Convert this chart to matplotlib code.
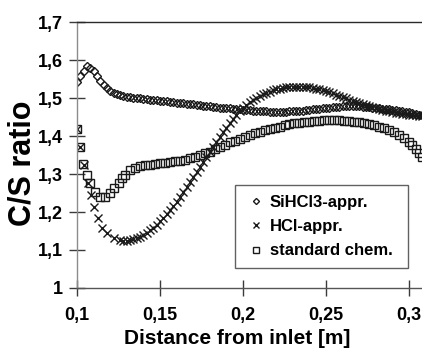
import matplotlib
matplotlib.use("Agg")
import matplotlib.pyplot as plt

plt.rcParams['font.family'] = ['Liberation Sans', 'DejaVu Sans']
plt.rcParams['font.weight'] = 'bold'

# SiHCl3 approximation
x_sihcl3 = [0.100, 0.102, 0.104, 0.106, 0.108, 0.110, 0.112, 0.114, 0.116, 0.118,
            0.120, 0.122, 0.124, 0.126, 0.128, 0.130, 0.132, 0.134, 0.136, 0.138,
            0.140, 0.142, 0.144, 0.146, 0.148, 0.150, 0.152, 0.154, 0.156, 0.158,
            0.160, 0.162, 0.164, 0.166, 0.168, 0.170, 0.172, 0.174, 0.176, 0.178,
            0.180, 0.182, 0.184, 0.186, 0.188, 0.190, 0.192, 0.194, 0.196, 0.198,
            0.200, 0.202, 0.204, 0.206, 0.208, 0.210, 0.212, 0.214, 0.216, 0.218,
            0.220, 0.222, 0.224, 0.226, 0.228, 0.230, 0.232, 0.234, 0.236, 0.238,
            0.240, 0.242, 0.244, 0.246, 0.248, 0.250, 0.252, 0.254, 0.256, 0.258,
            0.260, 0.262, 0.264, 0.266, 0.268, 0.270, 0.272, 0.274, 0.276, 0.278,
            0.280, 0.282, 0.284, 0.286, 0.288, 0.290, 0.292, 0.294, 0.296, 0.298,
            0.300, 0.302, 0.304, 0.306, 0.308]
y_sihcl3 = [1.542, 1.557, 1.572, 1.584, 1.580, 1.570, 1.558, 1.546, 1.535, 1.526,
            1.519, 1.514, 1.510, 1.507, 1.505, 1.503, 1.502, 1.501, 1.500, 1.499,
            1.498, 1.497, 1.496, 1.495, 1.494, 1.493, 1.492, 1.491, 1.490, 1.489,
            1.488, 1.487, 1.486, 1.485, 1.484, 1.483, 1.482, 1.481, 1.480, 1.479,
            1.478, 1.477, 1.476, 1.475, 1.475, 1.474, 1.473, 1.472, 1.471, 1.470,
            1.469, 1.468, 1.468, 1.467, 1.466, 1.466, 1.465, 1.465, 1.464, 1.464,
            1.464, 1.464, 1.464, 1.464, 1.465, 1.465, 1.466, 1.466, 1.467, 1.468,
            1.469, 1.470, 1.471, 1.472, 1.473, 1.474, 1.475, 1.476, 1.477, 1.477,
            1.478, 1.478, 1.478, 1.478, 1.478, 1.478, 1.477, 1.477, 1.476, 1.475,
            1.474, 1.473, 1.472, 1.471, 1.470, 1.469, 1.468, 1.467, 1.465, 1.464,
            1.462, 1.460, 1.458, 1.456, 1.454]

# HCl approximation
x_hcl = [0.100, 0.102, 0.104, 0.1065, 0.1085, 0.110, 0.1125, 0.115, 0.118, 0.122,
         0.126, 0.128, 0.130, 0.132, 0.134, 0.136, 0.138, 0.140, 0.142, 0.144,
         0.146, 0.148, 0.150, 0.152, 0.154, 0.156, 0.158, 0.160, 0.162, 0.164,
         0.166, 0.168, 0.170, 0.172, 0.174, 0.176, 0.178, 0.180, 0.182, 0.184,
         0.186, 0.188, 0.190, 0.192, 0.194, 0.196, 0.198, 0.200, 0.202, 0.204,
         0.206, 0.208, 0.210, 0.212, 0.214, 0.216, 0.218, 0.220, 0.222, 0.224,
         0.226, 0.228, 0.230, 0.232, 0.234, 0.236, 0.238, 0.240, 0.242, 0.244,
         0.246, 0.248, 0.250, 0.252, 0.254, 0.256, 0.258, 0.260, 0.262, 0.264,
         0.266, 0.268, 0.270, 0.272, 0.274, 0.276, 0.278, 0.280, 0.282, 0.284,
         0.286, 0.288, 0.290, 0.292, 0.294, 0.296, 0.298, 0.300, 0.302, 0.304,
         0.306, 0.308]
y_hcl = [1.419, 1.372, 1.324, 1.276, 1.245, 1.214, 1.183, 1.157, 1.144, 1.131,
         1.126, 1.125, 1.125, 1.126, 1.128, 1.131, 1.135, 1.140, 1.145, 1.152,
         1.159, 1.167, 1.176, 1.185, 1.195, 1.205, 1.216, 1.227, 1.239, 1.252,
         1.265, 1.278, 1.292, 1.306, 1.319, 1.332, 1.345, 1.358, 1.371, 1.384,
         1.397, 1.410, 1.422, 1.433, 1.444, 1.455, 1.465, 1.474, 1.482, 1.489,
         1.495, 1.501, 1.506, 1.510, 1.514, 1.517, 1.520, 1.523, 1.525, 1.527,
         1.528, 1.529, 1.530, 1.530, 1.530, 1.530, 1.529, 1.528, 1.527, 1.525,
         1.523, 1.521, 1.518, 1.515, 1.512, 1.509, 1.506, 1.503, 1.499, 1.496,
         1.493, 1.490, 1.487, 1.484, 1.481, 1.478, 1.476, 1.473, 1.471, 1.469,
         1.467, 1.465, 1.463, 1.461, 1.460, 1.458, 1.457, 1.456, 1.455, 1.454,
         1.453, 1.452]

# standard chemistry
x_std = [0.100, 0.1018, 0.1038, 0.106, 0.108, 0.111, 0.114, 0.117, 0.120, 0.122,
         0.125, 0.127, 0.129, 0.132, 0.135, 0.138, 0.141, 0.144, 0.147, 0.150,
         0.153, 0.156, 0.159, 0.162, 0.165, 0.168, 0.171, 0.174, 0.177, 0.180,
         0.183, 0.186, 0.189, 0.192, 0.195, 0.198, 0.201, 0.204, 0.207, 0.210,
         0.213, 0.216, 0.219, 0.222, 0.225, 0.228, 0.231, 0.234, 0.237, 0.240,
         0.243, 0.246, 0.249, 0.252, 0.255, 0.258, 0.261, 0.264, 0.267, 0.270,
         0.273, 0.276, 0.279, 0.282, 0.285, 0.288, 0.291, 0.294, 0.297, 0.300,
         0.302, 0.304, 0.306, 0.308]
y_std = [1.419, 1.370, 1.326, 1.297, 1.276, 1.253, 1.240, 1.240, 1.249, 1.262,
         1.276, 1.289, 1.297, 1.310, 1.316, 1.320, 1.323, 1.325, 1.327, 1.329,
         1.330, 1.331, 1.333, 1.335, 1.338, 1.341, 1.345, 1.349, 1.354, 1.359,
         1.365, 1.371, 1.377, 1.383, 1.388, 1.393, 1.398, 1.403, 1.407, 1.411,
         1.415, 1.419, 1.422, 1.425, 1.428, 1.431, 1.433, 1.435, 1.437, 1.438,
         1.439, 1.440, 1.441, 1.441, 1.441, 1.441, 1.440, 1.439, 1.438, 1.436,
         1.434, 1.431, 1.428, 1.425, 1.421, 1.416, 1.410, 1.403, 1.395, 1.385,
         1.376, 1.366, 1.356, 1.346]

series_labels = ["SiHCl3-appr.", "HCl-appr.", "standard chem."]

x_ticks = [0.1, 0.15, 0.2, 0.25, 0.3]
x_ticklabels = ["0,1", "0,15", "0,2", "0,25", "0,3"]
y_ticks = [1.0, 1.1, 1.2, 1.3, 1.4, 1.5, 1.6, 1.7]
y_ticklabels = ["1", "1,1", "1,2", "1,3", "1,4", "1,5", "1,6", "1,7"]

W, H = 422, 349
fig = plt.figure(figsize=(W / 100, H / 100), dpi=100)
ax = fig.add_axes([77 / W, (H - 288) / H, (W - 77) / W, 266 / H])

mk = dict(linestyle='none', markerfacecolor='none', markeredgecolor='#1a1a1a',
          markeredgewidth=1.0)
ax.plot(x_sihcl3, y_sihcl3, marker='D', markersize=4.4, label=series_labels[0], **mk)
ax.plot(x_hcl, y_hcl, marker='x', markersize=6.0, label=series_labels[1], **mk)
ax.plot(x_std, y_std, marker='s', markersize=5.8, label=series_labels[2], **mk)

ax.set_xlim(0.1, 0.1 + (W - 77) / 1660)
ax.set_ylim(1.0, 1.7)
ax.set_xticks(x_ticks)
ax.set_xticklabels(x_ticklabels)
ax.set_yticks(y_ticks)
ax.set_yticklabels(y_ticklabels)
ax.tick_params(axis='both', direction='inout', length=11, width=1.0,
               color='#3a3a3a', labelsize=13)
ax.tick_params(axis='y', pad=5)
ax.tick_params(axis='x', pad=8.5)

ax.spines['right'].set_visible(False)
ax.spines['left'].set_color('#8c8c8c')
ax.spines['bottom'].set_color('#555555')
ax.spines['top'].set_color('#2a2a2a')
for s in ('left', 'bottom', 'top'):
    ax.spines[s].set_linewidth(1.0)

ax.set_xlabel("Distance from inlet [m]", fontsize=15, fontweight='bold')
ax.xaxis.set_label_coords((237 - 77) / (W - 77), (288 - 329) / 266)
ax.set_ylabel("C/S ratio", fontsize=22, fontweight='bold')
ax.yaxis.set_label_coords((38 - 77) / (W - 77), 0.47)

leg = ax.legend(loc='upper left', mode='expand',
                bbox_to_anchor=(235 / W, 1 - 185 / H - 0.3, 173 / W, 0.3),
                bbox_transform=fig.transFigure, borderaxespad=0,
                prop={'weight': 'bold', 'size': 12},
                frameon=True, fancybox=False, borderpad=0.6,
                handlelength=1.3, handletextpad=0.2, labelspacing=0.55,
                markerscale=0.7)
leg.get_frame().set_edgecolor('#3a3a3a')
leg.get_frame().set_linewidth(1.0)

fig.savefig("out.png", dpi=100)
